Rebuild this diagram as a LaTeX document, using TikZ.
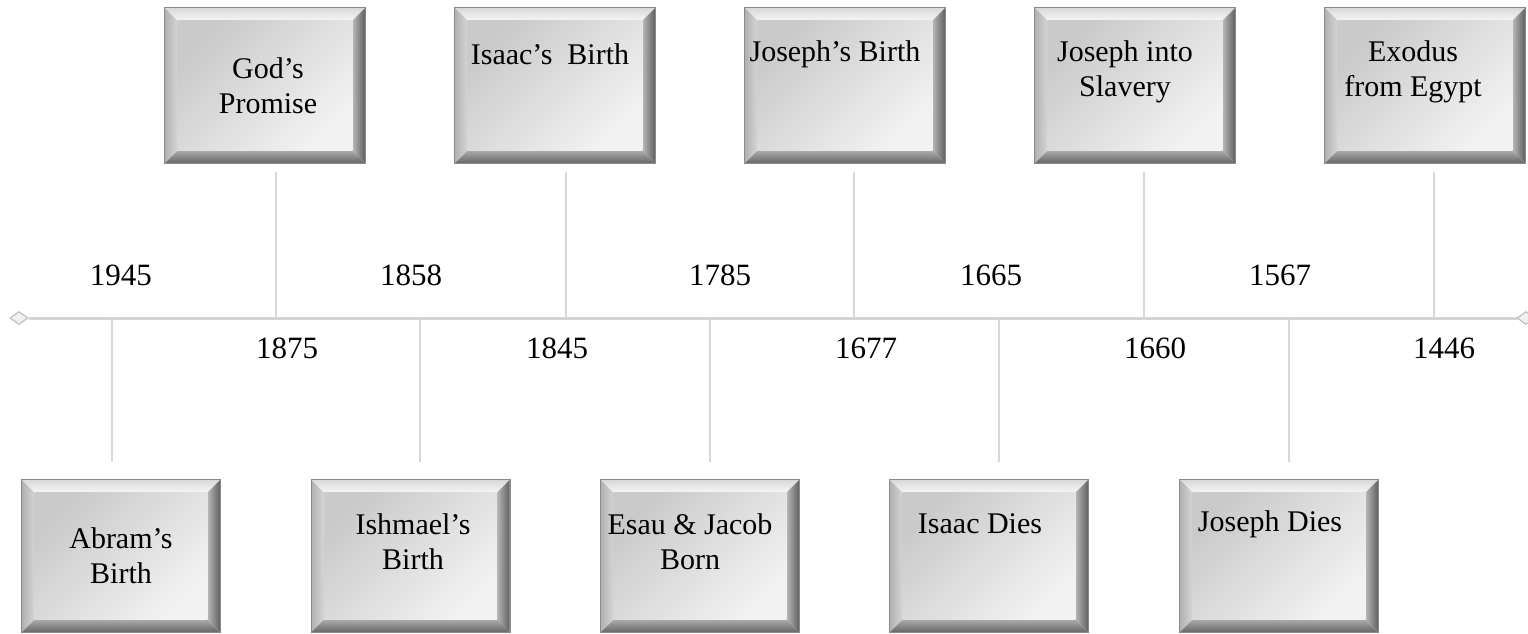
\documentclass[tikz,border=0pt]{standalone}
\usepackage{fontspec}
\setmainfont{Liberation Serif}
\usetikzlibrary{calc,arrows.meta,shapes.geometric}
\definecolor{lineg}{HTML}{D4D4D4}
\definecolor{tickg}{HTML}{D8D8D8}
\definecolor{bvtopA}{HTML}{D8D8D8}
\definecolor{bvtopB}{HTML}{F6F6F6}
\definecolor{bvleftA}{HTML}{B0B0B0}
\definecolor{bvleftB}{HTML}{D6D6D6}
\definecolor{bvrightA}{HTML}{B8B8B8}
\definecolor{bvrightB}{HTML}{5E5E5E}
\definecolor{bvbotA}{HTML}{ACACAC}
\definecolor{bvbotB}{HTML}{666666}
\definecolor{faceA}{HTML}{CACACA}
\definecolor{faceB}{HTML}{F2F2F2}
\definecolor{edgeg}{HTML}{8A8A8A}
\newcommand\bevbox[1]{%
 \coordinate (#1-a) at ($(#1.north west)+(13,13)$);
 \coordinate (#1-b) at ($(#1.north east)+(-13,13)$);
 \coordinate (#1-c) at ($(#1.south east)+(-13,-13)$);
 \coordinate (#1-d) at ($(#1.south west)+(13,-13)$);
 \shade[top color=bvtopA,bottom color=bvtopB] (#1.north west)--(#1.north east)--(#1-b)--(#1-a)--cycle;
 \shade[left color=bvleftA,right color=bvleftB] (#1.north west)--(#1-a)--(#1-d)--(#1.south west)--cycle;
 \shade[left color=bvrightA,right color=bvrightB] (#1.north east)--(#1.south east)--(#1-c)--(#1-b)--cycle;
 \shade[top color=bvbotA,bottom color=bvbotB] (#1.south west)--(#1-d)--(#1-c)--(#1.south east)--cycle;
 \shade[top color=faceA,bottom color=faceB,shading angle=45] (#1-a) rectangle (#1-c);
 \draw[edgeg,line width=0.6pt] (#1.north west) rectangle (#1.south east);
}
\tikzset{
 topbox/.style={rectangle,inner sep=0pt,minimum width=100pt,minimum height=77.5pt},
 botbox/.style={rectangle,inner sep=0pt,minimum width=99pt,minimum height=76pt},
 lbl/.style={align=center,inner sep=0pt,font=\fontsize{15}{17.5}\selectfont},
 year/.style={inner sep=0pt,font=\fontsize{15.5}{18}\selectfont},
 tick/.style={draw=tickg,line width=1pt},
 axis/.style={draw=lineg,line width=1.5pt},
 endmark/.style={diamond,draw=gray!55,fill=gray!12,line width=0.5pt,inner sep=0pt,minimum width=9pt,minimum height=6.5pt}
}
\begin{document}
\begin{tikzpicture}[x=0.5pt,y=-0.5pt]
\useasboundingbox (0,0) rectangle (1528,633);
\fill[white] (0,0) rectangle (1528,633);
% timeline
\node[endmark] (L) at (19,318) {};
\node[endmark] (R) at (1526,318) {};
\draw[axis] (L.east) -- (R.west);
% boxes
\node[topbox] (b2) at (265,85.5) {};
\node[topbox] (b4) at (555,85.5) {};
\node[topbox] (b6) at (845,85.5) {};
\node[topbox] (b8) at (1135,85.5) {};
\node[topbox] (b10) at (1425,85.5) {};
\node[botbox] (b1) at (121,556) {};
\node[botbox] (b3) at (410.5,556) {};
\node[botbox] (b5) at (700,556) {};
\node[botbox] (b7) at (989,556) {};
\node[botbox] (b9) at (1279,556) {};
\foreach \n in {b1,b2,b3,b4,b5,b6,b7,b8,b9,b10} {\bevbox{\n}}
% labels
\node[lbl] (t2) at (268,86) {God’s\\Promise};
\node[lbl] (t4) at (550,54) {Isaac’s\ \ Birth};
\node[lbl] (t6) at (835,54) {Joseph’s Birth};
\node[lbl] (t8) at (1125,72) {Joseph into\\Slavery};
\node[lbl] (t10) at (1413,72) {Exodus\\from Egypt};
\node[lbl] (t1) at (121,556) {Abram’s\\Birth};
\node[lbl] (t3) at (413,542) {Ishmael’s\\Birth};
\node[lbl] (t5) at (690,542) {Esau \& Jacob\\Born};
\node[lbl] (t7) at (980,524) {Isaac Dies};
\node[lbl] (t9) at (1270,524) {Joseph Dies};
% ticks
\coordinate (a2) at (276,318); \coordinate (e2) at (276,172);
\coordinate (a4) at (566,318); \coordinate (e4) at (566,172);
\coordinate (a6) at (854,318); \coordinate (e6) at (854,172);
\coordinate (a8) at (1144,318); \coordinate (e8) at (1144,172);
\coordinate (a10) at (1434,318); \coordinate (e10) at (1434,172);
\coordinate (a1) at (112,318); \coordinate (e1) at (112,462);
\coordinate (a3) at (420,318); \coordinate (e3) at (420,462);
\coordinate (a5) at (710,318); \coordinate (e5) at (710,462);
\coordinate (a7) at (999,318); \coordinate (e7) at (999,462);
\coordinate (a9) at (1289,318); \coordinate (e9) at (1289,462);
\foreach \i in {1,...,10} {\draw[tick] (a\i) -- (e\i);}
% years
\node[year] (y1) at (121,275) {1945};
\node[year] (y3) at (411,275) {1858};
\node[year] (y5) at (720,275) {1785};
\node[year] (y7) at (991,275) {1665};
\node[year] (y9) at (1280,275) {1567};
\node[year] (y2) at (287,348) {1875};
\node[year] (y4) at (557,348) {1845};
\node[year] (y6) at (866,348) {1677};
\node[year] (y8) at (1155,348) {1660};
\node[year] (y10) at (1444,348) {1446};
\end{tikzpicture}
\end{document}
